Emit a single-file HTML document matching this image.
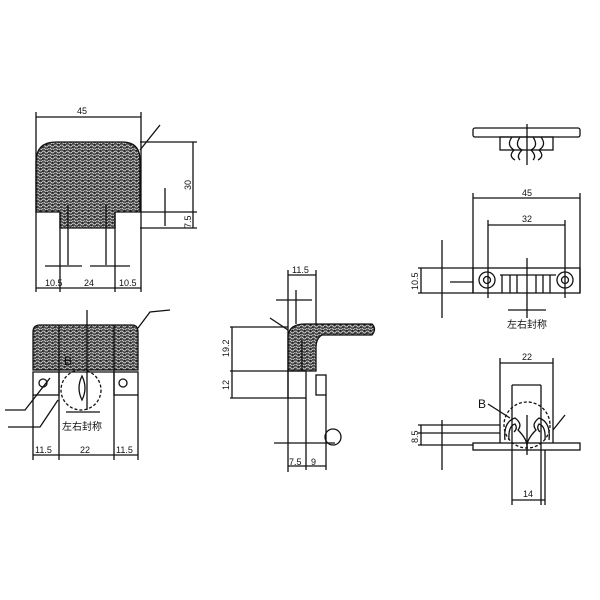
<!DOCTYPE html>
<html><head><meta charset="utf-8"><style>
html,body{margin:0;padding:0;background:#fff}
svg{display:block}
text{font-family:"Liberation Sans","Noto Sans CJK SC",sans-serif;fill:#111}
</style></head><body>
<svg width="600" height="600" viewBox="0 0 600 600" xmlns="http://www.w3.org/2000/svg">
<defs>
<pattern id="foam" width="6" height="6" patternUnits="userSpaceOnUse">
<rect width="6" height="6" fill="#4a4a4a"/>
<path d="M0 2 Q1.5 0 3 2 T6 2 M0 5 Q1.5 3 3 5 T6 5" stroke="#d8d8d8" stroke-width="0.8" fill="none"/>
<circle cx="1" cy="3.5" r="0.7" fill="#111"/><circle cx="4.5" cy="0.8" r="0.7" fill="#111"/>
</pattern>
</defs>
<g stroke="#111" stroke-width="1.3" fill="none">
<!-- top-left view -->
<path d="M36 212 L36 162 Q36 142 56 142 L122 142 Q140 142 140 160 L140 212 L115 212 L115 228 L60 228 L60 212 Z" fill="url(#foam)"/>
<line x1="36" y1="112" x2="36" y2="292"/><line x1="141" y1="112" x2="141" y2="292"/>
<line x1="36" y1="117" x2="141" y2="117"/>
<line x1="60" y1="212" x2="60" y2="292"/><line x1="115" y1="212" x2="115" y2="292"/>
<line x1="68" y1="205" x2="68" y2="265"/><line x1="106" y1="205" x2="106" y2="265"/>
<line x1="45" y1="266" x2="82" y2="266"/><line x1="90" y1="266" x2="130" y2="266"/>
<line x1="36" y1="288" x2="141" y2="288"/>
<line x1="140" y1="142" x2="197" y2="142"/><line x1="140" y1="212" x2="197" y2="212"/><line x1="140" y1="228" x2="197" y2="228"/>
<line x1="193" y1="142" x2="193" y2="228"/>
<line x1="165" y1="188" x2="165" y2="226"/>
<line x1="140" y1="150" x2="160" y2="125"/>
<!-- bottom-left view -->
<path d="M33 370 L33 332 Q33 325 40 325 L132 325 Q138 325 138 332 L138 370 Z" fill="url(#foam)"/>
<line x1="59" y1="325" x2="59" y2="460"/><line x1="114" y1="325" x2="114" y2="460"/>
<line x1="87" y1="310" x2="87" y2="410"/>
<rect x="33" y="372" width="26" height="23"/><rect x="114" y="372" width="24" height="23"/>
<line x1="59" y1="372" x2="114" y2="372"/>
<circle cx="81" cy="390" r="20" stroke-dasharray="3 2"/>
<path d="M82 376 Q76 388 82 400 Q88 388 82 376 Z"/>
<circle cx="43" cy="383" r="4"/><circle cx="123" cy="383" r="4"/>
<line x1="33" y1="395" x2="33" y2="460"/><line x1="138" y1="395" x2="138" y2="460"/>
<line x1="33" y1="455" x2="138" y2="455"/>
<line x1="66" y1="412" x2="100" y2="412"/>
<path d="M5 410 L25 410 L50 378"/><path d="M8 427 L40 427 L58 400"/>
<path d="M138 328 L150 312 L170 310"/>
<!-- middle view -->
<path d="M288 371 L288 335 Q290 324 305 324 L372 324 Q377 329 372 335 L322 335 Q316 338 316 348 L316 371 Z" fill="url(#foam)"/>
<line x1="302" y1="340" x2="302" y2="371"/>
<line x1="288" y1="270" x2="288" y2="472"/><line x1="316" y1="270" x2="316" y2="324"/>
<line x1="296" y1="290" x2="296" y2="324"/>
<line x1="288" y1="275" x2="316" y2="275"/>
<line x1="276" y1="300" x2="312" y2="300"/>
<rect x="288" y="371" width="18" height="27"/>
<rect x="316" y="375" width="10" height="20"/>
<line x1="306" y1="398" x2="306" y2="470"/><line x1="326" y1="395" x2="326" y2="470"/>
<line x1="230" y1="327" x2="288" y2="327"/><line x1="230" y1="371" x2="288" y2="371"/><line x1="230" y1="398" x2="288" y2="398"/>
<line x1="232" y1="327" x2="232" y2="398"/>
<line x1="274" y1="443" x2="335" y2="443"/>
<line x1="288" y1="466" x2="326" y2="466"/>
<circle cx="333" cy="437" r="8"/>
<line x1="270" y1="318" x2="288" y2="330"/>
<!-- top-right -->
<rect x="473" y="128" width="107" height="9" rx="2"/>
<rect x="500" y="137" width="53" height="13"/>
<path d="M512 137 Q506 145 514 150 Q508 156 515 160 M520 137 Q514 146 522 150 Q516 156 520 160 M541 137 Q547 145 539 150 Q545 156 538 160 M533 137 Q539 146 531 150 Q537 156 533 160"/>
<line x1="527" y1="124" x2="527" y2="165"/>
<!-- mid-right -->
<line x1="473" y1="193" x2="473" y2="293"/><line x1="580" y1="193" x2="580" y2="293"/>
<line x1="473" y1="198" x2="580" y2="198"/>
<line x1="488" y1="220" x2="488" y2="298"/><line x1="565" y1="220" x2="565" y2="298"/>
<line x1="488" y1="225" x2="565" y2="225"/>
<rect x="473" y="268" width="107" height="25"/>
<circle cx="487" cy="280" r="8"/><circle cx="487" cy="280" r="3.5"/>
<circle cx="565" cy="280" r="8"/><circle cx="565" cy="280" r="3.5"/>
<path d="M500 275 L556 275 M502 275 L502 293 M510 275 L510 293 M517 275 L517 293 M536 275 L536 293 M543 275 L543 293 M550 275 L550 293"/>
<line x1="527" y1="258" x2="527" y2="318"/>
<line x1="508" y1="310" x2="546" y2="310"/>
<line x1="418" y1="268" x2="473" y2="268"/><line x1="418" y1="293" x2="473" y2="293"/>
<line x1="421" y1="268" x2="421" y2="293"/>
<line x1="442" y1="240" x2="442" y2="318"/>
<line x1="450" y1="282" x2="473" y2="282"/>
<!-- bottom-right -->
<line x1="500" y1="358" x2="500" y2="443"/><line x1="553" y1="358" x2="553" y2="443"/>
<line x1="500" y1="363" x2="553" y2="363"/>
<line x1="512" y1="385" x2="512" y2="505"/><line x1="541" y1="385" x2="541" y2="505"/>
<line x1="512" y1="385" x2="541" y2="385"/>
<circle cx="527" cy="425" r="23" stroke-dasharray="3 2"/>
<path d="M505 440 Q503 422 515 418 Q523 424 518 430 Q528 440 527 448 Q526 440 536 430 Q531 424 539 418 Q551 422 549 440"/>
<path d="M509 440 Q508 426 515 424 Q518 428 514 432 M545 440 Q546 426 539 424 Q536 428 540 432"/>
<line x1="527" y1="415" x2="527" y2="455"/>
<rect x="473" y="443" width="107" height="7"/>
<line x1="488" y1="404" x2="510" y2="418"/>
<line x1="553" y1="430" x2="565" y2="415"/>
<line x1="418" y1="425" x2="500" y2="425"/><line x1="418" y1="433" x2="500" y2="433"/><line x1="418" y1="445" x2="473" y2="445"/>
<line x1="421" y1="425" x2="421" y2="445"/>
<line x1="442" y1="420" x2="442" y2="470"/>
<line x1="512" y1="500" x2="545" y2="500"/><line x1="545" y1="450" x2="545" y2="505"/>
</g>
<g font-size="9">
<text x="82" y="114" text-anchor="middle">45</text>
<text x="45" y="286">10.5</text><text x="84" y="286">24</text><text x="119" y="286">10.5</text>
<text x="191" y="190" transform="rotate(-90 191 190)">30</text>
<text x="191" y="228" transform="rotate(-90 191 228)">7.5</text>
<text x="35" y="453">11.5</text><text x="80" y="453">22</text><text x="116" y="453">11.5</text>
<text x="64" y="365" font-size="12">B</text>
<text x="82" y="430" text-anchor="middle" font-size="10">左右封称</text>
<text x="292" y="273">11.5</text>
<text x="229" y="357" transform="rotate(-90 229 357)">19.2</text>
<text x="229" y="390" transform="rotate(-90 229 390)">12</text>
<text x="289" y="465">7.5</text><text x="311" y="465">9</text>
<text x="527" y="196" text-anchor="middle">45</text>
<text x="527" y="222" text-anchor="middle">32</text>
<text x="418" y="290" transform="rotate(-90 418 290)">10.5</text>
<text x="527" y="328" text-anchor="middle" font-size="10">左右封称</text>
<text x="527" y="360" text-anchor="middle">22</text>
<text x="478" y="408" font-size="12">B</text>
<text x="418" y="443" transform="rotate(-90 418 443)">8.5</text>
<text x="528" y="497" text-anchor="middle">14</text>
</g>
</svg>
</body></html>
